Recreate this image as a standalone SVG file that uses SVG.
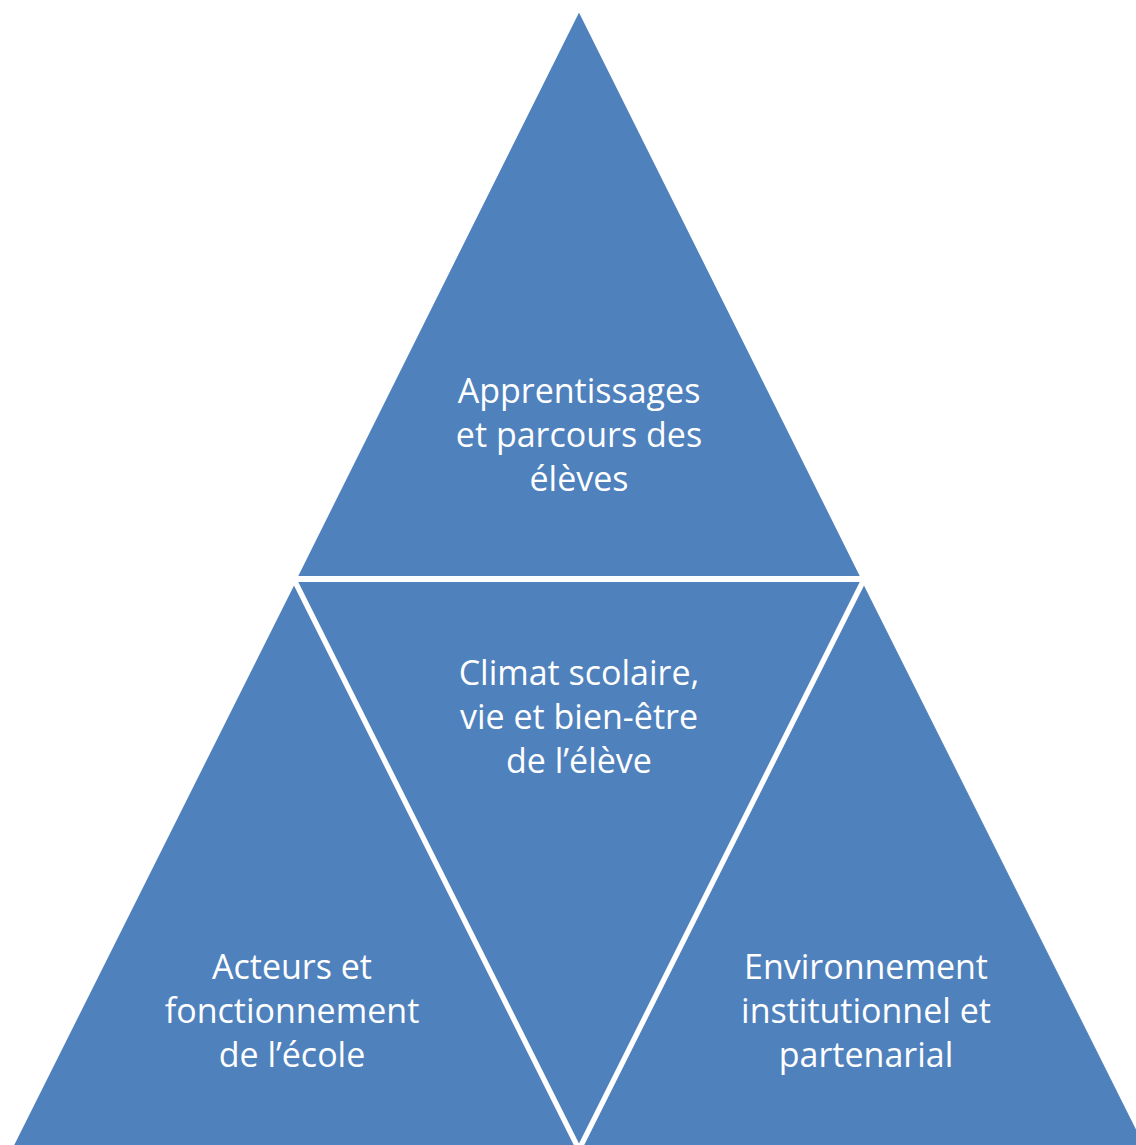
<svg xmlns="http://www.w3.org/2000/svg" width="1136" height="1145" viewBox="0 0 1136 1145">
<style>
.tri{fill:#4F81BD;stroke:#FFFFFF;stroke-width:4;stroke-linejoin:miter}
.lbl{font-family:"Open Sans","Noto Sans","Liberation Sans",sans-serif;font-size:34px;fill:#FFFFFF;text-anchor:middle}
</style>
<rect width="1136" height="1145" fill="#FFFFFF"/>
<g id="top">
<polygon class="tri" points="579,8 295,578 863,578"/>
<text class="lbl" x="579" y="403"><tspan x="579">Apprentissages</tspan><tspan x="579" dy="44">et parcours des</tspan><tspan x="579" dy="44">élèves</tspan></text>
</g>
<g id="middle">
<polygon class="tri" points="295,580 863,580 579,1148"/>
<text class="lbl" x="579" y="685"><tspan x="579">Climat scolaire,</tspan><tspan x="579" dy="44">vie et bien-être</tspan><tspan x="579" dy="44">de l’élève</tspan></text>
</g>
<g id="left">
<polygon class="tri" points="294,581 -8,1185 596,1185"/>
<text class="lbl" x="292" y="979"><tspan x="292">Acteurs et</tspan><tspan x="292" dy="44">fonctionnement</tspan><tspan x="292" dy="44">de l’école</tspan></text>
</g>
<g id="right">
<polygon class="tri" points="864,581 562,1185 1166,1185"/>
<text class="lbl" x="866" y="979"><tspan x="866">Environnement</tspan><tspan x="866" dy="44">institutionnel et</tspan><tspan x="866" dy="44">partenarial</tspan></text>
</g>
<g id="connectors"/>
</svg>
